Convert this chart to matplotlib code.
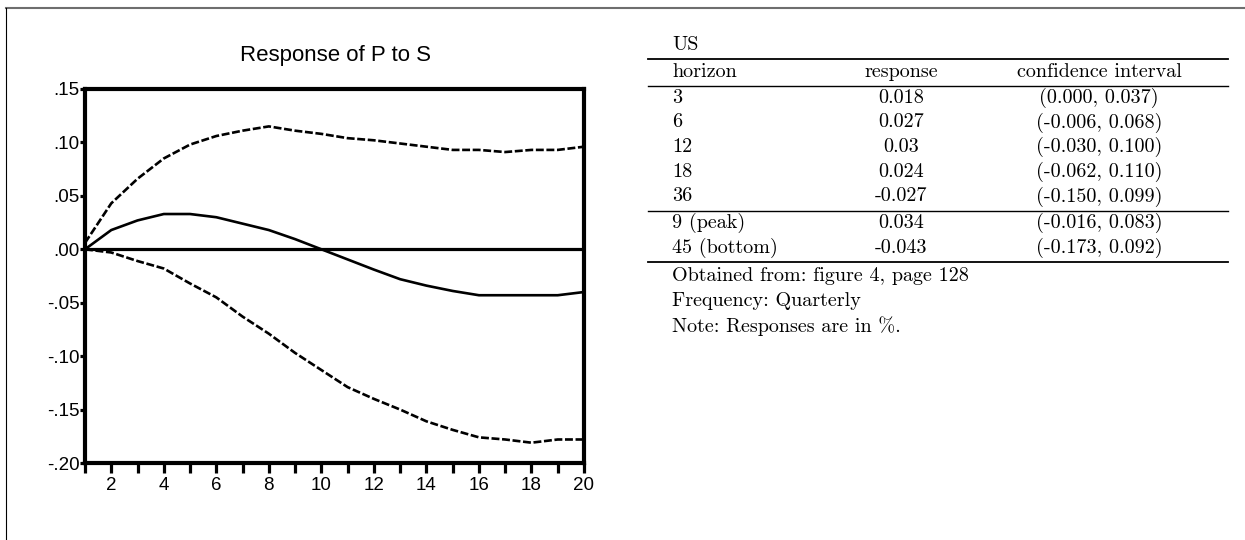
import matplotlib
matplotlib.use("Agg")
import matplotlib.pyplot as plt
from matplotlib.lines import Line2D
from matplotlib.ticker import FixedLocator, FuncFormatter

# impulse response of P to S, quarters 1..20
horizon = list(range(1, 21))
irf = [0.000, 0.018, 0.027, 0.033, 0.033, 0.030, 0.024, 0.018, 0.0095, 0.000,
       -0.0095, -0.019, -0.028, -0.034, -0.039, -0.043, -0.043, -0.043, -0.043, -0.040]
upper = [0.006, 0.043, 0.066, 0.085, 0.098, 0.106, 0.111, 0.115, 0.111, 0.108,
         0.104, 0.102, 0.099, 0.096, 0.093, 0.093, 0.091, 0.093, 0.093, 0.096]
lower = [0.000, -0.003, -0.011, -0.018, -0.032, -0.045, -0.063, -0.079, -0.097, -0.113,
         -0.129, -0.140, -0.150, -0.161, -0.169, -0.176, -0.178, -0.181, -0.178, -0.178]

y_ticks = [-0.20, -0.15, -0.10, -0.05, 0.00, 0.05, 0.10, 0.15]

# table on the right
tab_title = "US"
tab_header = ["horizon", "response", "confidence interval"]
tab_horizon = ["3", "6", "12", "18", "36"]
tab_response = ["0.018", "0.027", "0.03", "0.024", "-0.027"]
tab_ci = ["(0.000, 0.037)", "(-0.006, 0.068)", "(-0.030, 0.100)", "(-0.062, 0.110)", "(-0.150, 0.099)"]
ext_horizon = ["9 (peak)", "45 (bottom)"]
ext_response = ["0.034", "-0.043"]
ext_ci = ["(-0.016, 0.083)", "(-0.173, 0.092)"]
notes = ["Obtained from: figure 4, page 128", "Frequency: Quarterly", "Note: Responses are in %."]

W, H = 1245, 540
fig = plt.figure(figsize=(W / 100, H / 100), dpi=100)


def fx(x):
    return x / W


def fy(y):
    return 1 - y / H


# outer frame (top and left edges only)
fig.add_artist(Line2D([fx(6), 1.0], [fy(8), fy(8)], color="#6e6e6e", lw=1.5))
fig.add_artist(Line2D([fx(6), fx(6)], [fy(8), 0.0], color="black", lw=0.8))

# --- left: the chart
ax = fig.add_axes([fx(85), fy(463), fx(584) - fx(85), fy(89) - fy(463)])
ax.plot(horizon, upper, color="black", lw=1.9, dashes=(3, 1))
ax.plot(horizon, lower, color="black", lw=1.9, dashes=(3, 1))
ax.plot(horizon, irf, color="black", lw=1.9)
ax.axhline(0, color="black", lw=2.3)

ax.set_xlim(1, 20)
ax.set_ylim(-0.20, 0.15)
ax.xaxis.set_major_locator(FixedLocator(horizon))
ax.xaxis.set_major_formatter(FuncFormatter(lambda v, p: str(int(v)) if int(v) % 2 == 0 else ""))
ax.yaxis.set_major_locator(FixedLocator(y_ticks))


def yfmt(v, p):
    s = "%.2f" % v
    s = s.replace("0.", ".", 1)
    if s == "-.00":
        s = ".00"
    return s


ax.yaxis.set_major_formatter(FuncFormatter(yfmt))
ax.tick_params(axis="x", direction="out", length=7, width=2.3, pad=3,
               labelsize=13.5, labelfontfamily="Liberation Sans")
ax.tick_params(axis="y", direction="out", length=3.5, width=2.3, pad=0.5,
               labelsize=13.5, labelfontfamily="Liberation Sans")
for sp in ax.spines.values():
    sp.set_linewidth(3)

fig.text(fx(335), fy(56), "Response of P to S", ha="center", va="center",
         fontsize=16, family="Liberation Sans")

# --- right: the table
tf = dict(family="cmr10", fontsize=14.5, va="center")
col_left, col_mid, col_right = 672, 901, 1099
rule_x = [fx(648), fx(1228)]

fig.text(fx(col_left), fy(45), tab_title, ha="left", **tf)
fig.add_artist(Line2D(rule_x, [fy(59)] * 2, color="black", lw=1.3))
fig.text(fx(col_left), fy(72), tab_header[0], ha="left", **tf)
fig.text(fx(col_mid), fy(72), tab_header[1], ha="center", **tf)
fig.text(fx(col_right), fy(72), tab_header[2], ha="center", **tf)
fig.add_artist(Line2D(rule_x, [fy(86)] * 2, color="black", lw=1.0))

row_y = [98, 122.5, 147, 172, 196.5]
for i, y in enumerate(row_y):
    fig.text(fx(col_left), fy(y), tab_horizon[i], ha="left", **tf)
    fig.text(fx(col_mid), fy(y), tab_response[i], ha="center", **tf)
    fig.text(fx(col_right), fy(y), tab_ci[i], ha="center", **tf)
fig.add_artist(Line2D(rule_x, [fy(211)] * 2, color="black", lw=1.0))

ext_y = [223, 248]
for i, y in enumerate(ext_y):
    fig.text(fx(col_left), fy(y), ext_horizon[i], ha="left", **tf)
    fig.text(fx(col_mid), fy(y), ext_response[i], ha="center", **tf)
    fig.text(fx(col_right), fy(y), ext_ci[i], ha="center", **tf)
fig.add_artist(Line2D(rule_x, [fy(262)] * 2, color="black", lw=1.3))

for i, n in enumerate(notes):
    fig.text(fx(col_left), fy(276 + 25 * i), n, ha="left", **tf)

fig.savefig("out.png", dpi=100)
